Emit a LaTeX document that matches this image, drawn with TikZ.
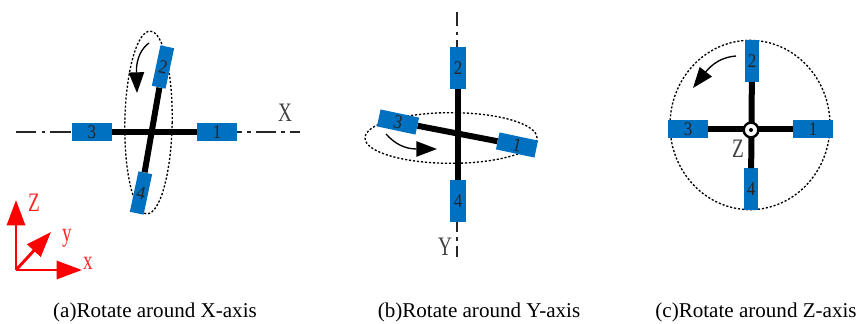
\documentclass[tikz,border=0pt]{standalone}
\usepackage{fontspec}
\setmainfont{Liberation Serif}
\newfontfamily\narrowfont[FakeStretch=0.72]{Liberation Serif}
\newfontfamily\digitfont[FakeStretch=0.88]{Liberation Serif}
\usetikzlibrary{shapes.geometric, arrows.meta, positioning}
\definecolor{rotorblue}{RGB}{0,112,192}

\begin{document}
\begin{tikzpicture}[
        x=0.75pt, y=-0.75pt,
        rotorh/.style={rectangle, fill=rotorblue, minimum width=29.5pt, minimum height=13pt, inner sep=0pt, font=\digitfont\fontsize{14.5}{15}\selectfont, text=black!85},
        rotorv/.style={rotorh, minimum width=12.5pt, minimum height=31pt},
        arm/.style={line width=4.5pt, black},
        axisline/.style={line width=1.1pt, black!85, dash pattern=on 15.2pt off 4pt on 2.5pt off 4pt},
        orbit/.style={ellipse, draw=black, line width=1pt, dash pattern=on 1.6pt off 1.4pt, inner sep=0pt},
        spin/.style={-{Triangle[length=15.5pt, width=11.5pt]}, line width=1pt, black},
        redaxis/.style={-{Triangle[length=19pt, width=13.5pt]}, line width=2.2pt, red},
        axislabel/.style={font=\narrowfont\fontsize{20}{20}\selectfont, text=black!75, inner sep=0pt},
        redlabel/.style={font=\narrowfont\fontsize{20}{20}\selectfont, text=red!85, inner sep=0pt},
        caption/.style={font=\fontsize{15.8}{16}\selectfont, inner sep=0pt}
    ]
    \useasboundingbox (0,0) rectangle (859,324);

    % panel a
    \coordinate (xaxis_l) at (16,132);
    \coordinate (xaxis_r) at (300,132);
    \draw [axisline] (xaxis_l) -- (xaxis_r);
    \node (orbit_a) [orbit, minimum width=35.5pt, minimum height=137pt, rotate=-1] at (148.5,122.5) {};
    \node (a3) [rotorh] at (92,132) {3};
    \node (a1) [rotorh] at (217,132) {1};
    \node (a2) [rotorv, minimum width=10.5pt, rotate=-12] at (163,67) {2};
    \node (a4) [rotorv, minimum width=10.5pt, rotate=-12] at (141,193) {4};
    \draw [arm] (a3) -- (a1);
    \draw [arm] (a2) -- (a4);
    \node (x_label) [axislabel] at (285,113) {X};
    \coordinate (spin_a_s) at (149,43);
    \coordinate (spin_a_e) at (137,93);
    \draw [spin] (spin_a_s) .. controls (142,48) and (136,58) .. (spin_a_e);

    % red frame
    \coordinate (frame_o) at (16,270);
    \coordinate (frame_z) at (16,200);
    \coordinate (frame_x) at (82,270);
    \coordinate (frame_y) at (51,232);
    \draw [redaxis] (frame_o) -- (frame_z);
    \draw [redaxis] (frame_o) -- (frame_x);
    \draw [redaxis] (frame_o) -- (frame_y);
    \node (z_red) [redlabel] at (34,203) {Z};
    \node (y_red) [redlabel] at (67,238) {y};
    \node (x_red) [redlabel] at (88,263) {x};

    % panel b
    \coordinate (yaxis_t) at (457,12);
    \coordinate (yaxis_b) at (457,257);
    \draw [axisline, dash phase=4.5pt] (yaxis_t) -- (yaxis_b);
    \node (orbit_b) [orbit, minimum width=129pt, minimum height=38pt] at (451,138) {};
    \node (b2) [rotorv] at (458,68) {2};
    \node (b4) [rotorv] at (458,201) {4};
    \node (b3) [rotorh, rotate=-12] at (398,122) {3};
    \node (b1) [rotorh, rotate=-12] at (517,145) {1};
    \draw [arm] (b2) -- (b4);
    \draw [arm] (b3) -- (b1);
    \node (y_label) [axislabel] at (445,247) {Y};
    \coordinate (spin_b_s) at (386,134);
    \coordinate (spin_b_e) at (437,149);
    \draw [spin] (spin_b_s) .. controls (395,144) and (405,149) .. (spin_b_e);

    % panel c
    \node (orbit_c) [orbit, minimum width=120pt, minimum height=127pt] at (750,125) {};
    \node (c2) [rotorv, minimum width=10.5pt] at (752,61) {2};
    \node (c4) [rotorv, minimum width=11pt] at (751,189) {4};
    \node (c3) [rotorh] at (688,129) {3};
    \node (c1) [rotorh] at (813,129) {1};
    \draw [arm] (c2) -- (c4);
    \draw [arm] (c3) -- (c1);
    \node (hub) [circle, draw=black, line width=1.8pt, fill=white, minimum size=11pt, inner sep=0pt] at (751,130) {};
    \node (hub_dot) [circle, fill=black, minimum size=3pt, inner sep=0pt] at (hub) {};
    \node (z_label) [axislabel] at (738,149) {Z};
    \coordinate (spin_c_s) at (736,56);
    \coordinate (spin_c_e) at (693,88);
    \draw [spin] (spin_c_s) .. controls (722,57) and (712,64) .. (spin_c_e);

    % captions
    \node (cap_a) [caption] at (155,312) {(a)Rotate around X-axis};
    \node (cap_b) [caption] at (479,312) {(b)Rotate around Y-axis};
    \node (cap_c) [caption] at (756,312) {(c)Rotate around Z-axis};
\end{tikzpicture}
\end{document}
